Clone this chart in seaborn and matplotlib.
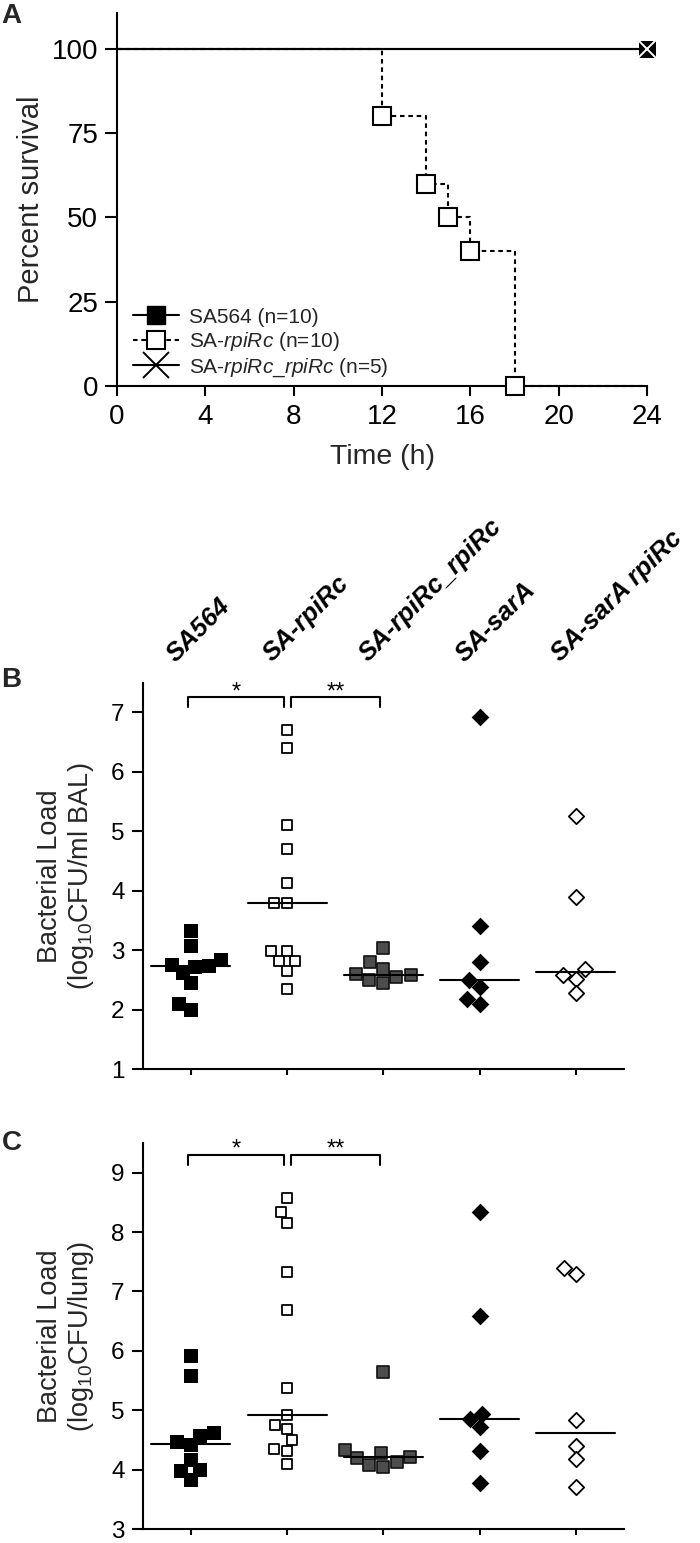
import numpy as np
import pandas as pd
import matplotlib
matplotlib.use("Agg")
import matplotlib.pyplot as plt
from matplotlib.lines import Line2D
import seaborn as sns

# Panel A: survival curves (time in h, percent survival)
time_sa564 = [0, 24]
surv_sa564 = [100, 100]
time_rpirc = [0, 12, 14, 15, 16, 18, 24]
surv_rpirc = [100, 80, 60, 50, 40, 0, 0]
time_comp = [0, 24]
surv_comp = [100, 100]
time_ticks = [0, 4, 8, 12, 16, 20, 24]
surv_ticks = [0, 25, 50, 75, 100]

# Panels B and C: bacterial load per strain
strains = ["SA564", "SA-rpiRc", "SA-rpiRc_rpiRc", "SA-sarA", "SA-sarA rpiRc"]

bal_sa564 = [3.32, 3.07, 2.84, 2.75, 2.74, 2.72, 2.62, 2.44, 2.10, 2.00]
bal_rpirc = [6.70, 6.40, 5.10, 4.70, 4.13, 3.80, 3.80, 2.98, 2.98, 2.81, 2.81, 2.65, 2.35]
bal_comp = [3.03, 2.80, 2.69, 2.60, 2.58, 2.55, 2.50, 2.44]
bal_sara = [6.92, 3.40, 2.80, 2.50, 2.38, 2.18, 2.10]
bal_sara_rpirc = [5.25, 3.89, 2.68, 2.58, 2.52, 2.28]

lung_sa564 = [5.92, 5.58, 4.61, 4.57, 4.46, 4.41, 4.16, 3.99, 3.98, 3.83]
lung_rpirc = [8.58, 8.33, 8.15, 7.32, 6.68, 5.37, 4.92, 4.75, 4.69, 4.50, 4.34, 4.31, 4.09]
lung_comp = [5.65, 4.33, 4.28, 4.22, 4.20, 4.12, 4.07, 4.05]
lung_sara = [8.33, 6.58, 4.94, 4.85, 4.71, 4.31, 3.77]
lung_sara_rpirc = [7.39, 7.29, 4.84, 4.40, 4.18, 3.70]

bal_ticks = [1, 2, 3, 4, 5, 6, 7]
lung_ticks = [3, 4, 5, 6, 7, 8, 9]

# significance brackets: (group a, group b, label)
comparisons = [(0, 1, "*"), (1, 2, "**")]

sns.set_theme(style="ticks")
plt.rcParams["font.family"] = ["Liberation Sans", "DejaVu Sans"]
plt.rcParams["mathtext.fontset"] = "custom"
plt.rcParams["mathtext.rm"] = "Liberation Sans"
plt.rcParams["mathtext.it"] = "Liberation Sans:italic"
plt.rcParams["mathtext.bf"] = "Liberation Sans:bold"

H = 1543.0
fig = plt.figure(figsize=(7, 15.43), dpi=100)

# marker style for each strain in B/C
marker_style = {
    "SA564": dict(marker="s", color="black", edgecolor="black", linewidth=0, size=9.4),
    "SA-rpiRc": dict(marker="s", color="white", edgecolor="black", linewidth=1.3, size=7.6),
    "SA-rpiRc_rpiRc": dict(marker="s", color="#4d4d4d", edgecolor="#111111", linewidth=1.2, size=8.8),
    "SA-sarA": dict(marker="D", color="black", edgecolor="black", linewidth=0, size=9.0),
    "SA-sarA rpiRc": dict(marker="D", color="white", edgecolor="black", linewidth=1.3, size=7.8),
}


def style_axis(ax, lab_size):
    sns.despine(ax=ax)
    for side in ["left", "bottom"]:
        ax.spines[side].set_linewidth(1.5)
        ax.spines[side].set_color("black")
    ax.tick_params(axis="both", colors="black", width=1.5, labelsize=lab_size)


# ---------------- A ----------------
axA = fig.add_axes([117 / 700, 1 - 386 / H, 530 / 700, 373 / H])
sns.lineplot(x=time_sa564, y=surv_sa564, ax=axA, color="black", lw=1.5,
             marker="s", markevery=[1], markersize=13, estimator=None,
             sort=False, clip_on=False, zorder=3)
sns.lineplot(x=time_comp, y=surv_comp, ax=axA, color="black", lw=1.5,
             marker="x", markevery=[1], markersize=19, markeredgewidth=1.4,
             estimator=None, sort=False, clip_on=False, zorder=4)
sns.lineplot(x=time_rpirc, y=surv_rpirc, ax=axA, color="black", lw=1.5,
             drawstyle="steps-post", linestyle=(0, (2.2, 1.8)),
             marker="s", markevery=[1, 2, 3, 4, 5], markersize=12.5,
             markerfacecolor="white", markeredgecolor="black",
             markeredgewidth=1.5, estimator=None, sort=False,
             clip_on=False, zorder=5)
axA.set_xlim(0, 24)
axA.set_ylim(0, 110.6)
axA.set_xticks(time_ticks)
axA.set_yticks(surv_ticks)
style_axis(axA, 20)
axA.tick_params(axis="x", length=7, pad=6)
axA.tick_params(axis="y", length=8.5, pad=5)
axA.set_xlabel("Time (h)", fontsize=20.5)
axA.set_ylabel("Percent survival", fontsize=21)
axA.xaxis.set_label_coords(0.5, -0.155)
axA.yaxis.set_label_coords(-0.135, 0.5)

handles = [
    Line2D([], [], color="black", lw=1.5, marker="s", ms=13),
    Line2D([], [], color="black", lw=1.5, ls=(0, (2.2, 1.8)), marker="s",
           ms=13, mfc="white", mec="black", mew=1.5),
    Line2D([], [], color="black", lw=1.5, marker="x", ms=19, mew=1.4),
]
labels = ["SA564 (n=10)", r"SA-$\mathit{rpiRc}$ (n=10)",
          r"SA-$\mathit{rpiRc\_rpiRc}$ (n=5)"]
axA.legend(handles, labels, loc="lower left", bbox_to_anchor=(0.03, 0.02),
           frameon=False, fontsize=15, handlelength=2.2, handletextpad=0.5,
           labelspacing=0.15, borderpad=0, borderaxespad=0)


# ---------------- B and C ----------------
def scatter_panel(ax, groups, ylim, yticks, ylabel, brk_lo, brk_hi, star_y):
    for name, vals in zip(strains, groups):
        st = marker_style[name]
        sns.swarmplot(x=[name] * len(vals), y=vals, order=strains, ax=ax,
                      marker=st["marker"], color=st["color"],
                      edgecolor=st["edgecolor"], linewidth=st["linewidth"],
                      size=st["size"], zorder=3, clip_on=False)
    for i, vals in enumerate(groups):
        med = np.median(vals)
        ax.plot([i - 0.41, i + 0.41], [med, med], color="black", lw=1.5, zorder=4)
    for a, b, lab in comparisons:
        left = a - 0.03 + (0.07 if a == 1 else 0)
        right = b - 0.03
        ax.plot([left, left, right, right], [brk_lo, brk_hi, brk_hi, brk_lo],
                color="black", lw=1.5, clip_on=False)
        ax.text((left + right) / 2, star_y, lab, ha="center", va="top",
                fontsize=17, color="black")
    ax.set_xlim(-0.5, 4.5)
    ax.set_ylim(*ylim)
    ax.set_yticks(yticks)
    ax.set_xticks(range(len(strains)))
    ax.set_xticklabels([])
    ax.set_xlabel("")
    style_axis(ax, 17.5)
    ax.tick_params(axis="x", length=4)
    ax.tick_params(axis="y", length=8, pad=5)
    ax.set_ylabel(ylabel, fontsize=19.5, linespacing=1.15)
    ax.yaxis.set_label_coords(-0.097, 0.5)


axB = fig.add_axes([142.7 / 700, 1 - 1069 / H, 481.3 / 700, 386.3 / H])
scatter_panel(axB, [bal_sa564, bal_rpirc, bal_comp, bal_sara, bal_sara_rpirc],
              (1, 7.5), bal_ticks, "Bacterial Load\n(log$_{10}$CFU/ml BAL)",
              7.09, 7.26, 7.52)
for i, name in enumerate(strains):
    axB.text(i - 0.12, 7.78, name, rotation=45, rotation_mode="anchor",
             ha="left", va="bottom", fontsize=18.5, fontweight="bold",
             fontstyle="italic", color="black")

axC = fig.add_axes([142.7 / 700, 1 - 1529 / H, 481.3 / 700, 386 / H])
scatter_panel(axC, [lung_sa564, lung_rpirc, lung_comp, lung_sara, lung_sara_rpirc],
              (3, 9.5), lung_ticks, "Bacterial Load\n(log$_{10}$CFU/lung)",
              9.13, 9.30, 9.57)

for letter, ypix in [("A", 16), ("B", 680), ("C", 1143)]:
    fig.text(0.002, 1 - ypix / H, letter, fontsize=20, fontweight="bold",
             ha="left", va="center")

fig.savefig("out.png", dpi=100)
